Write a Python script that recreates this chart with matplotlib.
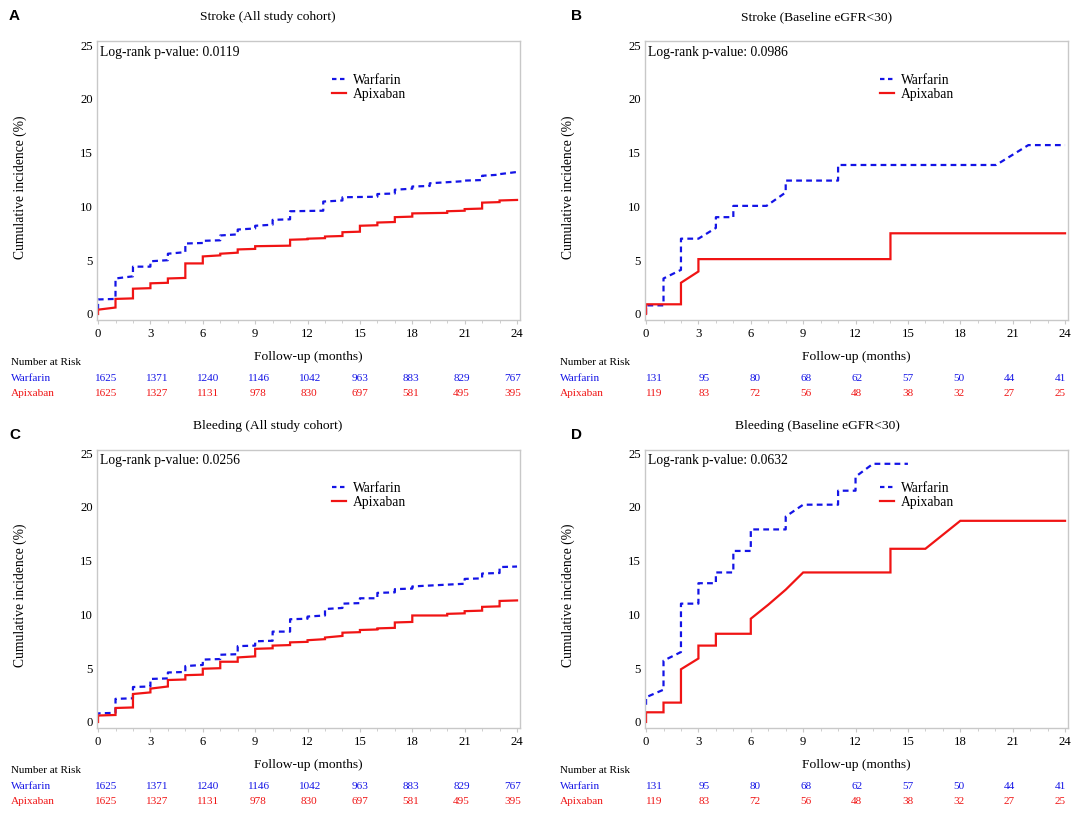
import matplotlib
matplotlib.use("Agg")
import matplotlib.pyplot as plt
from matplotlib.ticker import MultipleLocator
from matplotlib.lines import Line2D
from matplotlib.transforms import blended_transform_factory

plt.rcParams["font.family"] = ["Liberation Serif", "DejaVu Serif"]

W_PX, H_PX = 1084, 821
BLUE = "#1414e6"
RED = "#f01414"
FRAME = "#c8c8c8"

# ---------------------------------------------------------------------------
# DATA  (cumulative incidence curves, vertices)
# ---------------------------------------------------------------------------
risk_months = [0, 3, 6, 9, 12, 15, 18, 21, 24]

# A - Stroke, all study cohort
a_warf_t = [0, 0, 1, 1, 2, 2, 3, 3, 4, 4, 5, 5, 6, 6, 7, 7, 8, 8, 9, 9, 10, 10,
            11, 11, 12.9, 12.9, 14, 14, 16, 16, 17, 17, 18, 18, 19, 19, 21, 21,
            22, 22, 23, 23, 24]
a_warf_y = [0.4, 1.35, 1.4, 3.3, 3.5, 4.4, 4.4, 4.9, 5.0, 5.6, 5.75, 6.55, 6.6,
            6.8, 6.85, 7.3, 7.4, 7.85, 7.95, 8.2, 8.3, 8.75, 8.8, 9.55, 9.6,
            10.45, 10.55, 10.85, 10.9, 11.15, 11.2, 11.55, 11.65, 11.85, 11.9,
            12.15, 12.35, 12.4, 12.45, 12.85, 12.95, 13.0, 13.2]
a_apix_t = [0, 0, 1, 1, 2, 2, 3, 3, 4, 4, 5, 5, 6, 6, 7, 7, 8, 8, 9, 9, 11, 11,
            12, 12, 13, 13, 14, 14, 15, 15, 16, 16, 17, 17, 18, 18, 20, 20, 21,
            21, 22, 22, 23, 23, 24]
a_apix_y = [0.0, 0.4, 0.6, 1.4, 1.45, 2.35, 2.4, 2.85, 2.9, 3.3, 3.35, 4.7, 4.7,
            5.35, 5.45, 5.6, 5.7, 6.0, 6.05, 6.3, 6.35, 6.9, 6.95, 7.0, 7.05,
            7.2, 7.25, 7.6, 7.65, 8.2, 8.25, 8.5, 8.55, 9.0, 9.05, 9.35, 9.4,
            9.55, 9.6, 9.75, 9.8, 10.35, 10.4, 10.55, 10.6]

# B - Stroke, baseline eGFR<30
b_warf_t = [0, 0, 1, 1, 2, 2, 3, 4, 4, 5, 5, 6.9, 8, 8, 11, 11, 20.05, 21.9, 24]
b_warf_y = [0, 0.8, 0.8, 3.3, 4.1, 7.0, 7.0, 8.0, 9.0, 9.0, 10.05, 10.05, 11.3,
            12.4, 12.4, 13.85, 13.85, 15.7, 15.7]
b_apix_t = [0, 0, 2, 2, 3, 3, 14, 14, 24]
b_apix_y = [0, 0.9, 0.9, 2.9, 3.95, 5.1, 5.1, 7.5, 7.5]

# C - Bleeding, all study cohort
c_warf_t = [0, 0, 1, 1, 2, 2, 3, 3, 4, 4, 5, 5, 6, 6, 7, 7, 8, 8, 9, 9, 10, 10,
            11, 11, 12, 12, 13, 13, 14, 14, 15, 15, 16, 16, 17, 17, 18, 18, 21,
            21, 22, 22, 23, 23, 24]
c_warf_y = [0.5, 0.8, 0.85, 2.15, 2.2, 3.25, 3.3, 4.0, 4.05, 4.6, 4.65, 5.2,
            5.3, 5.8, 5.85, 6.25, 6.3, 7.05, 7.1, 7.5, 7.55, 8.4, 8.4, 9.55, 9.6,
            9.8, 9.9, 10.5, 10.6, 11.0, 11.05, 11.5, 11.5, 12.0, 12.05, 12.35,
            12.4, 12.6, 12.85, 13.3, 13.35, 13.8, 13.85, 14.4, 14.45]
c_apix_t = [0, 0, 1, 1, 2, 2, 3, 3, 4, 4, 5, 5, 6, 6, 7, 7, 8, 8, 9, 9, 10, 10,
            11, 11, 12, 12, 13, 13, 14, 14, 15, 15, 16, 16, 17, 17, 18, 18, 20,
            20, 21, 21, 22, 22, 23, 23, 24]
c_apix_y = [0.0, 0.6, 0.65, 1.3, 1.35, 2.6, 2.75, 3.1, 3.3, 3.9, 3.95, 4.35,
            4.4, 4.95, 5.0, 5.6, 5.6, 6.0, 6.1, 6.8, 6.85, 7.1, 7.15, 7.4, 7.45,
            7.6, 7.7, 7.85, 8.0, 8.3, 8.35, 8.55, 8.6, 8.7, 8.75, 9.25, 9.3,
            9.9, 9.9, 10.05, 10.1, 10.3, 10.35, 10.7, 10.75, 11.25, 11.3]

# D - Bleeding, baseline eGFR<30
d_warf_t = [0, 0, 1, 1, 2, 2, 3, 3, 4, 4, 5, 5, 6, 6, 8, 8, 9, 11, 11, 12, 12,
            13, 15]
d_warf_y = [1.6, 2.3, 3.0, 5.7, 6.5, 11.0, 11.0, 12.9, 12.9, 13.9, 13.9, 15.9,
            15.9, 17.9, 17.9, 19.1, 20.2, 20.2, 21.5, 21.5, 22.8, 24.0, 24.0]
d_apix_t = [0, 0, 1, 1, 2, 2, 3, 3, 4, 4, 6, 6, 7, 8, 9, 14, 14, 16, 18, 24]
d_apix_y = [0, 0.9, 0.9, 1.8, 1.8, 4.9, 5.9, 7.1, 7.1, 8.2, 8.2, 9.6, 10.9,
            12.3, 13.9, 13.9, 16.1, 16.1, 18.7, 18.7]

# numbers at risk
all_warf_risk = [1625, 1371, 1240, 1146, 1042, 963, 883, 829, 767]
all_apix_risk = [1625, 1327, 1131, 978, 830, 697, 581, 495, 395]
egfr_warf_risk = [131, 95, 80, 68, 62, 57, 50, 44, 41]
egfr_apix_risk = [119, 83, 72, 56, 48, 38, 32, 27, 25]

titles = ["Stroke (All study cohort)", "Stroke (Baseline eGFR<30)",
          "Bleeding (All study cohort)", "Bleeding (Baseline eGFR<30)"]
letters = ["A", "B", "C", "D"]
pvalues = ["0.0119", "0.0986", "0.0256", "0.0632"]

# ---------------------------------------------------------------------------
# LAYOUT (pixels in the 1084x821 canvas)
# ---------------------------------------------------------------------------
AX_W, AX_H = 423, 278.5
AX_LEFT = [97, 645]
AX_TOP = [41.5, 449.5]


def px_rect(left, top, w, h):
    return [left / W_PX, 1 - (top + h) / H_PX, w / W_PX, h / H_PX]


def draw_panel(fig, col, row, letter, title, pval, warf, apix, warf_risk, apix_risk):
    left, top = AX_LEFT[col], AX_TOP[row]
    ax = fig.add_axes(px_rect(left, top, AX_W, AX_H))

    ax.plot(warf[0], warf[1], color=BLUE, lw=1.6, dashes=(2.6, 1.9),
            solid_joinstyle="miter")
    ax.plot(apix[0], apix[1], color=RED, lw=1.6, solid_joinstyle="miter")

    ax.set_xlim(-0.06, 24.17)
    ax.set_ylim(-0.56, 25.33)
    ax.xaxis.set_major_locator(MultipleLocator(3))
    ax.xaxis.set_minor_locator(MultipleLocator(1))
    ax.yaxis.set_major_locator(MultipleLocator(5))
    for s in ax.spines.values():
        s.set_color(FRAME)
        s.set_linewidth(1.0)
    ax.tick_params(axis="x", which="major", length=3, color=FRAME, pad=2.5,
                   labelsize=9.2)
    ax.tick_params(axis="x", which="minor", length=2, color=FRAME)
    ax.tick_params(axis="y", length=0, pad=3, labelsize=9.2)

    ax.text(3 / AX_W, 1 - 11 / AX_H, f"Log-rank p-value: {pval}",
            transform=ax.transAxes, ha="left", va="center", fontsize=9.8)

    handles = [Line2D([], [], color=BLUE, lw=1.6, dashes=(2.0, 1.6)),
               Line2D([], [], color=RED, lw=1.6)]
    ax.legend(handles, ["Warfarin", "Apixaban"], loc="upper left",
              bbox_to_anchor=(0.556, 0.885), frameon=False, fontsize=9.8,
              handlelength=1.05, handletextpad=0.45, labelspacing=0.12,
              borderpad=0, borderaxespad=0)

    ax.text(0.5, -37 / AX_H, "Follow-up (months)", transform=ax.transAxes,
            ha="center", va="center", fontsize=9.7)
    ax.text((20 - 97) / AX_W, 0.478, "Cumulative incidence (%)",
            transform=ax.transAxes, rotation=90, ha="center", va="center",
            fontsize=9.8)

    # panel title and letter
    cx = 268 if col == 0 else 817
    ty = 17 if row == 0 else 426
    fig.text(cx / W_PX, 1 - ty / H_PX, title, ha="center", va="center",
             fontsize=9.7)
    lx = 14.5 if col == 0 else 577
    ly = 15.6 if row == 0 else 434.6
    fig.text(lx / W_PX, 1 - ly / H_PX, letter, ha="center", va="center",
             fontsize=11, fontweight="bold", family="Liberation Sans")

    # number at risk table (columns sit slightly inside the tick span)
    bottom = top + AX_H
    rows_y = [bottom + 42, bottom + 58, bottom + 73]
    lab_x = 11 if col == 0 else 560
    fig.text(lab_x / W_PX, 1 - rows_y[0] / H_PX, "Number at Risk", ha="left",
             va="center", fontsize=7.9, color="black")
    fig.text(lab_x / W_PX, 1 - rows_y[1] / H_PX, "Warfarin", ha="left",
             va="center", fontsize=8.1, color=BLUE)
    fig.text(lab_x / W_PX, 1 - rows_y[2] / H_PX, "Apixaban", ha="left",
             va="center", fontsize=8.1, color=RED)
    tr = blended_transform_factory(ax.transData, fig.transFigure)
    for m, nw, na in zip(risk_months, warf_risk, apix_risk):
        xpos = 0.41 + m * 0.972
        ax.text(xpos, 1 - rows_y[1] / H_PX, str(nw), transform=tr,
                ha="center", va="center", fontsize=8.1, color=BLUE, clip_on=False)
        ax.text(xpos, 1 - rows_y[2] / H_PX, str(na), transform=tr,
                ha="center", va="center", fontsize=8.1, color=RED, clip_on=False)
    return ax


fig = plt.figure(figsize=(W_PX / 100, H_PX / 100), dpi=100)
fig.patch.set_facecolor("white")

draw_panel(fig, 0, 0, letters[0], titles[0], pvalues[0],
           (a_warf_t, a_warf_y), (a_apix_t, a_apix_y), all_warf_risk, all_apix_risk)
draw_panel(fig, 1, 0, letters[1], titles[1], pvalues[1],
           (b_warf_t, b_warf_y), (b_apix_t, b_apix_y), egfr_warf_risk, egfr_apix_risk)
draw_panel(fig, 0, 1, letters[2], titles[2], pvalues[2],
           (c_warf_t, c_warf_y), (c_apix_t, c_apix_y), all_warf_risk, all_apix_risk)
draw_panel(fig, 1, 1, letters[3], titles[3], pvalues[3],
           (d_warf_t, d_warf_y), (d_apix_t, d_apix_y), egfr_warf_risk, egfr_apix_risk)

fig.savefig("out.png", dpi=100, facecolor="white")
